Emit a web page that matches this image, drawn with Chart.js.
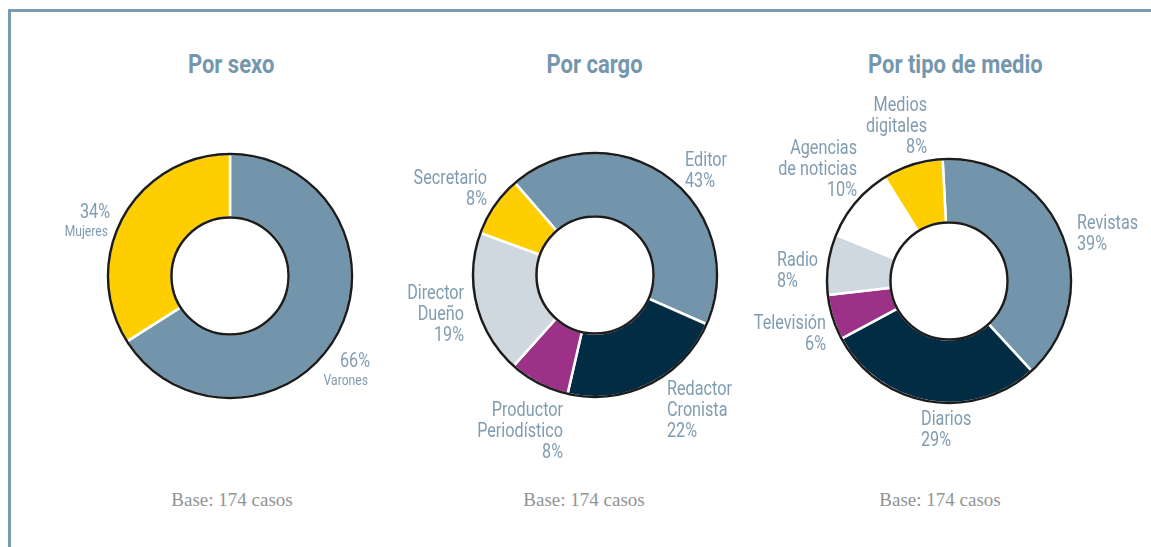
<!DOCTYPE html>
<html>
<head>
<meta charset="utf-8">
<script src="https://cdn.jsdelivr.net/npm/chart.js@4.4.1/dist/chart.umd.min.js"></script>
<style>
  body { margin: 0; width: 1151px; height: 547px; overflow: hidden; background: #fff; position: relative; }
  .marco { position: absolute; left: 8px; top: 9px; width: 1200px; height: 600px; border-left: 3px solid #7b9bb0; border-top: 3px solid #7b9bb0; }
  .titulo { position: absolute; top: 50px; width: 300px; text-align: center; line-height: 30px;
            font: bold 25px Roboto, "DejaVu Sans Condensed", sans-serif; color: #7497ae; }
  .titulo span { display: inline-block; transform: scaleX(0.88); }
  .base { position: absolute; top: 489px; width: 240px; text-align: center; line-height: 22px;
          font: 19px "Liberation Serif", "DejaVu Serif", serif; color: #939393; }
  canvas { position: absolute; top: 0; }
</style>
</head>
<body>
<div class="marco"></div>

<div class="titulo" style="left:81px"><span>Por sexo</span></div>
<div class="titulo" style="left:445px"><span>Por cargo</span></div>
<div class="titulo" style="left:805px"><span>Por tipo de medio</span></div>

<div class="base" style="left:112px" id="b1"></div>
<div class="base" style="left:464px" id="b2"></div>
<div class="base" style="left:820px" id="b3"></div>

<canvas id="sexo" width="420" height="547" style="left:20px"></canvas>
<canvas id="cargo" width="400" height="547" style="left:395px"></canvas>
<canvas id="medio" width="440" height="547" style="left:729px"></canvas>

<script>
// datos
const sexoCategorias = [['Varones'], ['Mujeres']];
const sexoValores = [66, 34];

const cargoCategorias = [['Editor'], ['Redactor', 'Cronista'], ['Productor', 'Periodístico'], ['Director', 'Dueño'], ['Secretario']];
const cargoValores = [43, 22, 8, 19, 8];

const medioCategorias = [['Revistas'], ['Diarios'], ['Televisión'], ['Radio'], ['Agencias', 'de noticias'], ['Medios', 'digitales']];
const medioValores = [39, 29, 6, 8, 10, 8];

const baseCasos = 174;

// colores
const azul = '#7395ab';
const amarillo = '#ffce00';
const marino = '#022b44';
const violeta = '#9c3287';
const gris = '#cfd8df';
const blanco = '#ffffff';

// ubicación de las etiquetas respecto del centro del anillo
const sexoEtiquetas = [
  { dx: 140, dy: 86, align: 'right' },
  { dx: -120, dy: -63, align: 'right' }
];
const cargoEtiquetas = [
  { dx: 90, dy: -114, align: 'left' },
  { dx: 72, dy: 115, align: 'left' },
  { dx: -32, dy: 136, align: 'right' },
  { dx: -131, dy: 19, align: 'right' },
  { dx: -108, dy: -96, align: 'right' }
];
const medioEtiquetas = [
  { dx: 128, dy: -57, align: 'left' },
  { dx: -28, dy: 139, align: 'left' },
  { dx: -123, dy: 43, align: 'right' },
  { dx: -172, dy: -20, align: 'left' },
  { dx: -92, dy: -132, align: 'right' },
  { dx: -22, dy: -175, align: 'right' }
];

const fuente = 'Roboto, "DejaVu Sans Condensed", sans-serif';
const angosto = 0.81; // la letra original es condensada

document.getElementById('b1').textContent = `Base: ${baseCasos} casos`;
document.getElementById('b2').textContent = `Base: ${baseCasos} casos`;
document.getElementById('b3').textContent = `Base: ${baseCasos} casos`;

function texto(ctx, t, x, y) {
  ctx.save();
  ctx.translate(x, y);
  ctx.scale(angosto, 1);
  ctx.fillText(t, 0, 0);
  ctx.restore();
}

// contorno negro y etiquetas de cada porción
function etiquetas(ubicaciones, valorPrimero) {
  return {
    id: 'etiquetas',
    afterDraw(chart) {
      const ctx = chart.ctx;
      const meta = chart.getDatasetMeta(0);
      const arco = meta.data[0];
      const cx = arco.x, cy = arco.y;

      ctx.save();
      ctx.strokeStyle = '#1c1c1c';
      ctx.lineWidth = 2.5;
      ctx.beginPath();
      ctx.arc(cx, cy, arco.outerRadius, 0, Math.PI * 2);
      ctx.stroke();
      ctx.beginPath();
      ctx.arc(cx, cy, arco.innerRadius, 0, Math.PI * 2);
      ctx.stroke();

      ctx.fillStyle = '#7f9cb1';
      ctx.textBaseline = 'middle';
      const datos = chart.data.datasets[0].data;
      chart.data.labels.forEach((nombre, i) => {
        const u = ubicaciones[i];
        const pct = datos[i] + '%';
        ctx.textAlign = u.align;
        if (valorPrimero) {
          ctx.font = '20px ' + fuente;
          texto(ctx, pct, cx + u.dx, cy + u.dy);
          ctx.font = '15px ' + fuente;
          nombre.forEach((l, j) => texto(ctx, l, cx + u.dx - 2, cy + u.dy + 19 * (j + 1)));
        } else {
          ctx.font = '20px ' + fuente;
          const lineas = nombre.concat([pct]);
          lineas.forEach((l, j) => texto(ctx, l, cx + u.dx, cy + u.dy + 21 * j));
        }
      });
      ctx.restore();
    }
  };
}

function anillo(id, categorias, valores, colores, giro, relleno, ubicaciones, valorPrimero) {
  const ctx = document.getElementById(id).getContext('2d');
  return new Chart(ctx, {
    type: 'doughnut',
    data: {
      labels: categorias,
      datasets: [{
        data: valores,
        backgroundColor: colores,
        borderColor: '#ffffff',
        borderWidth: 2.5
      }]
    },
    options: {
      responsive: false,
      animation: false,
      radius: 122,
      cutout: '48%',
      rotation: giro,
      layout: { padding: relleno },
      plugins: {
        legend: { display: false },
        tooltip: { enabled: false }
      }
    },
    plugins: [etiquetas(ubicaciones, valorPrimero)]
  });
}

anillo('sexo', sexoCategorias, sexoValores, [azul, amarillo], 0,
  { top: 150, bottom: 145 }, sexoEtiquetas, true);
anillo('cargo', cargoCategorias, cargoValores, [azul, marino, violeta, gris, amarillo], -41,
  { top: 149, bottom: 146 }, cargoEtiquetas, false);
anillo('medio', medioCategorias, medioValores, [azul, marino, violeta, gris, blanco, amarillo], -3,
  { top: 155, bottom: 140 }, medioEtiquetas, false);
</script>
</body>
</html>
